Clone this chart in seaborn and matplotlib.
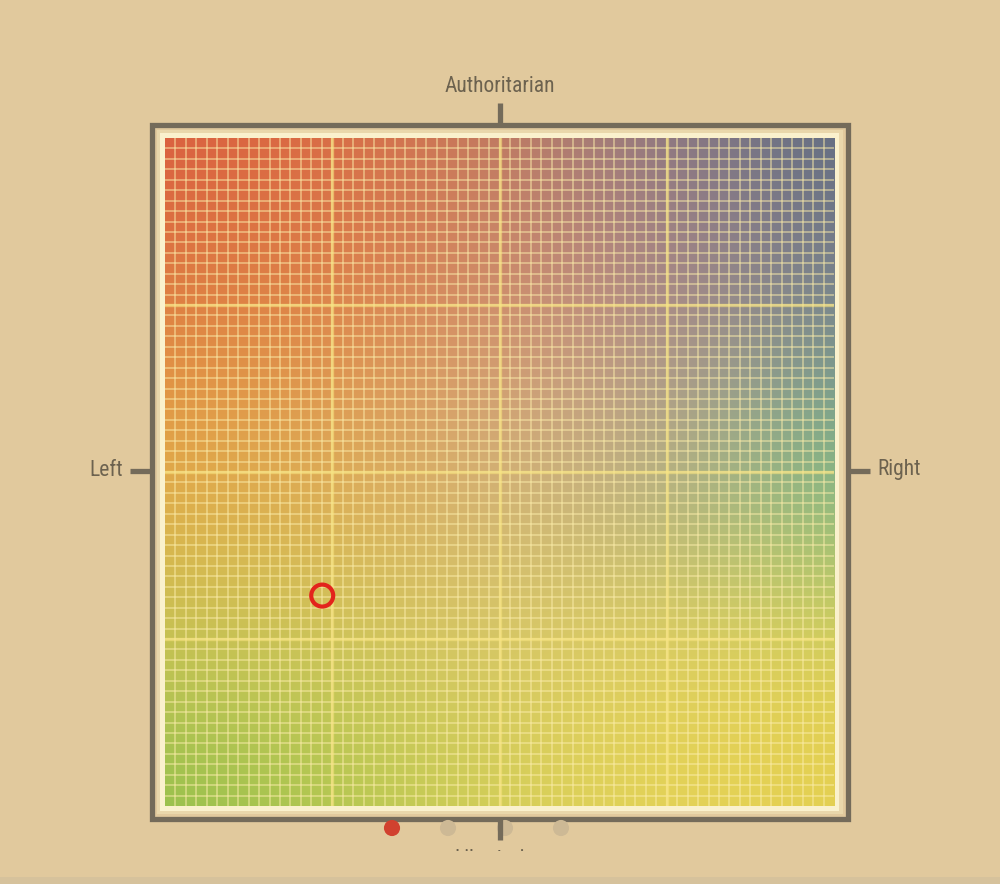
import numpy as np
import matplotlib
matplotlib.use("Agg")
import matplotlib.pyplot as plt
from matplotlib.colors import to_rgb
from matplotlib.patches import Rectangle
from matplotlib.transforms import Bbox, TransformedBbox
from matplotlib import font_manager
import seaborn as sns

# axis labels of the compass
label_top = "Authoritarian"
label_bottom = "Libertarian"
label_left = "Left"
label_right = "Right"

# user's position (economic, social) on a -10..10 scale
pos_economic = [-5.3]
pos_social = [-3.7]

# background colours at the major grid crossings (rows top->bottom, cols left->right)
grid_colors = [
    ["#d95a40", "#dc6a42", "#c27a5e", "#887888", "#5a6a80"],
    ["#de7f42", "#df8446", "#d6916f", "#b68a8a", "#778390"],
    ["#e6ab46", "#e0ab54", "#d4b37e", "#b3b08a", "#6cbb8c"],
    ["#c8c656", "#d1c859", "#d8c868", "#e1d15b", "#e1d055"],
    ["#8dbf4c", "#aec74f", "#d6cf58", "#e6d458", "#e4cf50"],
]

# pagination dots under the chart (first one active)
page_active = [True, False, False, False]

BG = "#e1c99d"
INK = "#6c624f"
FRAME = "#746b5a"

sns.set_theme(style="white")

# pick a narrow face if one is installed
names = {f.name for f in font_manager.fontManager.ttflist}
narrow = [n for n in ["Roboto Condensed", "Liberation Sans Narrow", "DejaVu Sans Condensed"]
          if n in names]
plt.rcParams["font.family"] = narrow[:1] + ["DejaVu Sans"]

fig = plt.figure(figsize=(10, 8.84), dpi=100)
fig.patch.set_facecolor(BG)
W, H = 1000, 884

# decoration layer in pixel coordinates
deco = fig.add_axes([0, 0, 1, 1], zorder=0)
deco.set_xlim(0, W)
deco.set_ylim(H, 0)
deco.axis("off")

deco.add_patch(Rectangle((0, 877), W, 7, color="#d6c29c", lw=0))
deco.add_patch(Rectangle((152, 125), 696, 694, fill=False, ec=FRAME, lw=3.8))
deco.add_patch(Rectangle((157, 130), 686, 684, color="#e9d7ab", lw=0))
deco.add_patch(Rectangle((160, 133), 679, 678, color="#faf1cd", lw=0))

# ticks on the frame
deco.plot([500, 500], [103, 125], color=FRAME, lw=3.8, solid_capstyle="butt")
deco.plot([130, 152], [471, 471], color=FRAME, lw=3.8, solid_capstyle="butt")
deco.plot([848, 870], [471, 471], color=FRAME, lw=3.8, solid_capstyle="butt")

# pagination dots
dot_x = [392, 448, 505, 561]
for x, active in zip(dot_x, page_active):
    deco.scatter([x], [828], s=135, color="#d1412f" if active else "#cdb995",
                 edgecolors="none", zorder=2)
deco.plot([500, 500], [818, 840], color=FRAME, lw=3.8, solid_capstyle="butt", zorder=3)

lab_kw = dict(color=INK, fontsize=15.5, fontstretch="condensed")
deco.text(500, 87, label_top, ha="center", va="center", **lab_kw)
deco.text(123, 470, label_left, ha="right", va="center", **lab_kw)
deco.text(877, 470, label_right, ha="left", va="center", **lab_kw)
# the bottom label is hidden below the page fold, only its top shows
lib = deco.text(500, 849, label_bottom, ha="center", va="top", **lab_kw)
lib.set_clip_box(TransformedBbox(Bbox([[0, 0], [W, 851]]), deco.transData))
lib.set_clip_on(True)

# the compass itself
ax = fig.add_axes([165 / W, (H - 806) / H, 669 / W, 668 / H], zorder=1)
img = np.array([[to_rgb(c) for c in row] for row in grid_colors])
ax.imshow(img, extent=(-12.5, 12.5, -12.5, 12.5), origin="upper",
          interpolation="bicubic", aspect="auto", zorder=0)
ax.set_xlim(-10, 10)
ax.set_ylim(-10, 10)

minor = np.linspace(-10, 10, 65)
for v in minor[1:-1]:
    ax.axvline(v, color="#fcedaa", lw=1.1, alpha=0.62, zorder=1)
    ax.axhline(v, color="#fcedaa", lw=1.1, alpha=0.62, zorder=1)
for v in [-5, 0, 5]:
    ax.axvline(v, color="#f8e480", lw=2.4, alpha=0.6, zorder=2)
    ax.axhline(v, color="#f8e480", lw=2.4, alpha=0.6, zorder=2)

sns.scatterplot(x=pos_economic, y=pos_social, ax=ax, s=250, marker="o",
                facecolor="none", edgecolor="#e3241c", linewidth=3.0, zorder=5)

ax.set_xticks([])
ax.set_yticks([])
for s in ax.spines.values():
    s.set_visible(False)

fig.savefig("out.png", dpi=100, facecolor=BG)
